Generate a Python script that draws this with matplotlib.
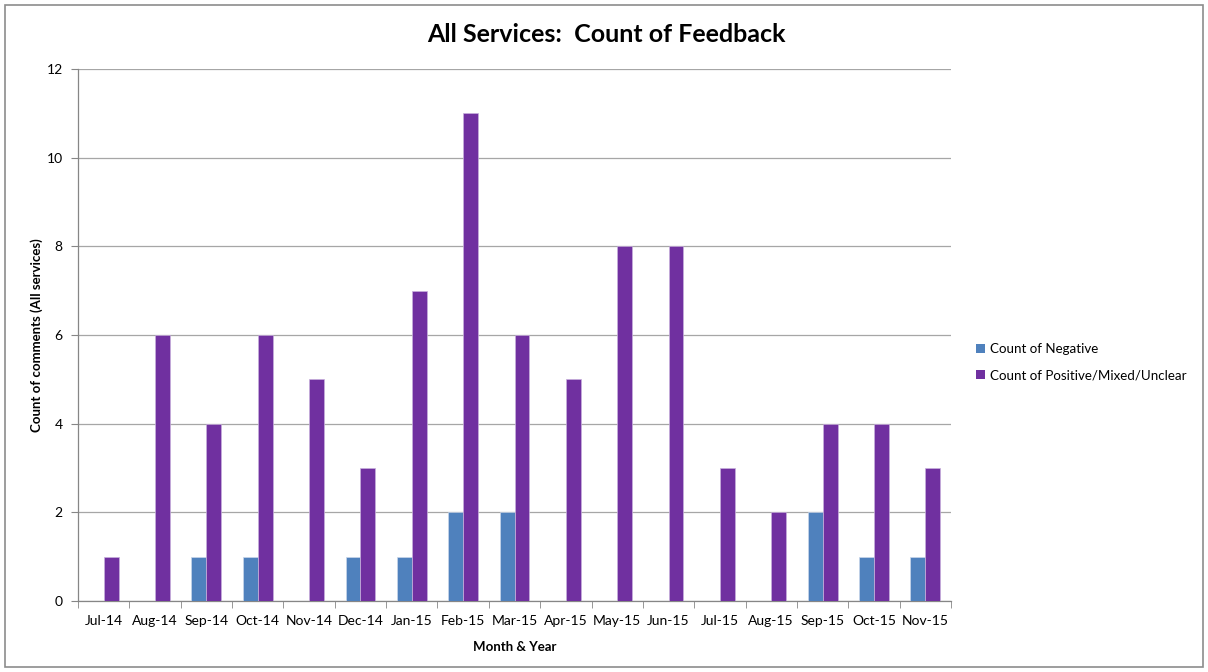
import matplotlib
matplotlib.use("Agg")
import matplotlib.pyplot as plt
from matplotlib.patches import Rectangle, Patch
import numpy as np

months = ["Jul-14", "Aug-14", "Sep-14", "Oct-14", "Nov-14", "Dec-14", "Jan-15", "Feb-15",
          "Mar-15", "Apr-15", "May-15", "Jun-15", "Jul-15", "Aug-15", "Sep-15", "Oct-15", "Nov-15"]
negative = [0, 0, 1, 1, 0, 1, 1, 2, 2, 0, 0, 0, 0, 0, 2, 1, 1]
positive = [1, 6, 4, 6, 5, 3, 7, 11, 6, 5, 8, 8, 3, 2, 4, 4, 3]

plt.rcParams["font.family"] = ["Lato", "DejaVu Sans"]

fig = plt.figure(figsize=(12.08, 6.72), dpi=100)
fig.patches.append(Rectangle((5 / 1208, 5 / 672), 1198 / 1208, 662 / 672,
                             transform=fig.transFigure, fill=False,
                             edgecolor="#8c8c8c", linewidth=1.2))

ax = fig.add_axes([78 / 1208, 1 - 601 / 672, (951 - 78) / 1208, (601 - 69) / 672])

x = np.arange(len(months))
w = 0.29
blue = "#4f81bd"
purple = "#7030a0"
ax.bar(x - w / 2, negative, w, color=blue, edgecolor="#c9d6ea", linewidth=0.5,
       label="Count of Negative", zorder=3)
ax.bar(x + w / 2, positive, w, color=purple, edgecolor="#c8b0dc", linewidth=0.5,
       label="Count of Positive/Mixed/Unclear", zorder=3)

ax.set_xlim(-0.5, len(months) - 0.5)
ax.set_ylim(0, 12)
ax.set_yticks(range(0, 13, 2))
ax.set_xticks(x)
ax.set_xticklabels(months, fontsize=10)
ax.set_xticks(np.arange(-0.5, len(months)), minor=True)
ax.tick_params(axis="x", which="major", length=0, pad=10)
ax.tick_params(axis="x", which="minor", length=5, color="#868686")
ax.tick_params(axis="y", length=5, color="#868686", labelsize=10, pad=6)

ax.grid(axis="y", color="#a6a6a6", linewidth=0.9, zorder=0)
for s in ["top", "right"]:
    ax.spines[s].set_visible(False)
for s in ["left", "bottom"]:
    ax.spines[s].set_color("#868686")
    ax.spines[s].set_linewidth(0.9)

ax.set_xlabel("Month & Year", fontsize=9.5, fontweight="bold", labelpad=10)
ax.set_ylabel("Count of comments (All services)", fontsize=9.5, fontweight="bold", labelpad=14)
ax.yaxis.set_label_coords(-35 / 873, 0.5)
fig.text(606 / 1208, 1 - 34 / 672, "All Services:  Count of Feedback", ha="center", va="center",
         fontsize=18, fontweight="bold")

handles = [Patch(facecolor=blue, label="Count of Negative"),
           Patch(facecolor=purple, label="Count of Positive/Mixed/Unclear")]
fig.legend(handles=handles, loc="center left", bbox_to_anchor=(964 / 1208, 1 - 362 / 672),
           frameon=False, fontsize=9.6, handlelength=0.7, handleheight=0.7,
           handletextpad=0.35, labelspacing=1.05)

fig.savefig("out.png", dpi=100)
